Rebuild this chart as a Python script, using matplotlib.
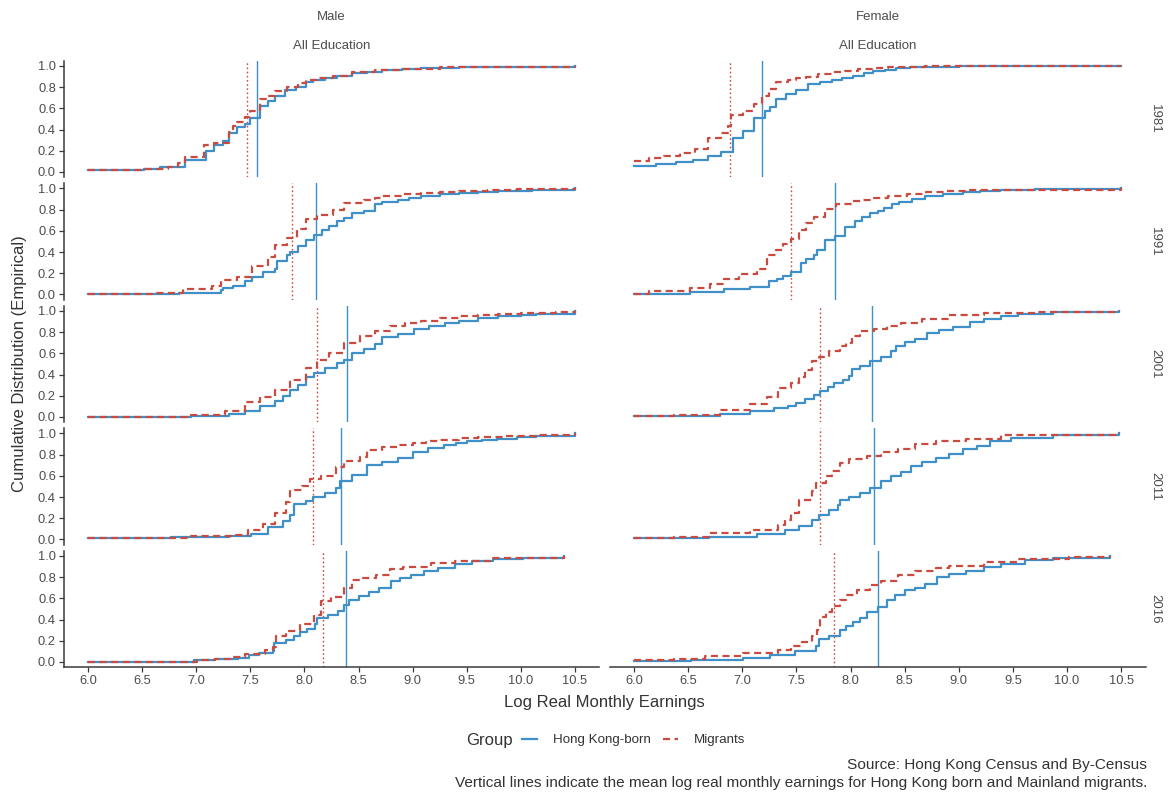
import matplotlib
matplotlib.use("Agg")
import matplotlib.pyplot as plt
from matplotlib.lines import Line2D

plt.rcParams["font.family"] = ["Liberation Sans", "DejaVu Sans"]

# facets
years = [1981, 1991, 2001, 2011, 2016]
sexes = ["Male", "Female"]
x_ticks = [6.0, 6.5, 7.0, 7.5, 8.0, 8.5, 9.0, 9.5, 10.0, 10.5]
y_ticks = [0.0, 0.2, 0.4, 0.6, 0.8, 1.0]

# ---- ECDF steps (log earnings, cumulative share) ----
male_1981_hk_x = [6.0, 6.52, 6.67, 6.90, 7.09, 7.16, 7.25, 7.30, 7.38, 7.45, 7.50, 7.59, 7.66, 7.73, 7.82, 7.92, 8.01, 8.08, 8.19, 8.30, 8.44, 8.58, 8.72, 8.90, 9.08, 9.43, 9.80, 10.5]
male_1981_hk_y = [0.015, 0.03, 0.05, 0.11, 0.20, 0.25, 0.29, 0.37, 0.42, 0.45, 0.51, 0.62, 0.67, 0.72, 0.77, 0.80, 0.85, 0.87, 0.89, 0.91, 0.93, 0.945, 0.96, 0.97, 0.98, 0.99, 0.995, 1.0]
male_1981_mig_x = [6.0, 6.52, 6.74, 6.83, 6.90, 7.07, 7.16, 7.30, 7.34, 7.38, 7.45, 7.50, 7.59, 7.66, 7.73, 7.84, 7.94, 8.01, 8.12, 8.26, 8.44, 8.65, 8.90, 9.25, 9.60, 10.5]
male_1981_mig_y = [0.015, 0.03, 0.05, 0.08, 0.14, 0.25, 0.27, 0.38, 0.43, 0.47, 0.52, 0.575, 0.69, 0.72, 0.76, 0.80, 0.84, 0.87, 0.89, 0.91, 0.94, 0.96, 0.975, 0.99, 0.995, 1.0]

male_1991_hk_x = [6.0, 6.84, 7.23, 7.25, 7.34, 7.45, 7.52, 7.62, 7.73, 7.75, 7.84, 7.87, 7.94, 8.01, 8.09, 8.16, 8.23, 8.30, 8.37, 8.44, 8.55, 8.65, 8.72, 8.86, 8.97, 9.08, 9.25, 9.43, 9.60, 9.79, 10.1, 10.5]
male_1991_hk_y = [0.003, 0.015, 0.04, 0.065, 0.08, 0.13, 0.16, 0.21, 0.24, 0.32, 0.37, 0.40, 0.46, 0.51, 0.56, 0.61, 0.645, 0.69, 0.72, 0.77, 0.79, 0.85, 0.87, 0.89, 0.91, 0.93, 0.945, 0.96, 0.97, 0.98, 0.99, 1.0]
male_1991_mig_x = [6.0, 6.59, 6.88, 7.15, 7.23, 7.38, 7.52, 7.66, 7.73, 7.84, 7.93, 8.01, 8.12, 8.26, 8.37, 8.55, 8.65, 8.72, 8.90, 9.08, 9.25, 9.43, 9.70, 9.96, 10.5]
male_1991_mig_y = [0.003, 0.01, 0.05, 0.08, 0.14, 0.16, 0.27, 0.35, 0.47, 0.53, 0.62, 0.71, 0.75, 0.80, 0.86, 0.89, 0.91, 0.93, 0.95, 0.96, 0.97, 0.98, 0.99, 0.995, 1.0]

male_2001_hk_x = [6.0, 6.95, 7.30, 7.45, 7.59, 7.73, 7.80, 7.87, 7.94, 8.01, 8.09, 8.19, 8.30, 8.37, 8.44, 8.55, 8.65, 8.72, 8.86, 9.01, 9.15, 9.30, 9.43, 9.60, 9.79, 10.0, 10.14, 10.5]
male_2001_hk_y = [0.003, 0.01, 0.025, 0.06, 0.10, 0.15, 0.20, 0.25, 0.30, 0.38, 0.41, 0.46, 0.51, 0.54, 0.60, 0.64, 0.685, 0.75, 0.78, 0.83, 0.86, 0.89, 0.91, 0.93, 0.95, 0.965, 0.975, 1.0]
male_2001_mig_x = [6.0, 6.95, 7.27, 7.45, 7.59, 7.73, 7.87, 8.01, 8.12, 8.23, 8.37, 8.51, 8.65, 8.79, 8.93, 9.08, 9.25, 9.43, 9.60, 9.79, 10.0, 10.32, 10.5]
male_2001_mig_y = [0.003, 0.015, 0.06, 0.14, 0.19, 0.25, 0.35, 0.46, 0.54, 0.60, 0.70, 0.765, 0.81, 0.86, 0.885, 0.91, 0.93, 0.95, 0.965, 0.975, 0.985, 0.99, 1.0]

male_2011_hk_x = [6.0, 6.77, 7.30, 7.51, 7.66, 7.80, 7.87, 7.90, 8.01, 8.08, 8.19, 8.29, 8.33, 8.44, 8.58, 8.72, 8.86, 9.00, 9.14, 9.29, 9.40, 9.50, 9.64, 9.78, 9.96, 10.14, 10.5]
male_2011_hk_y = [0.01, 0.02, 0.03, 0.055, 0.12, 0.17, 0.23, 0.33, 0.36, 0.40, 0.44, 0.49, 0.555, 0.61, 0.70, 0.73, 0.77, 0.83, 0.86, 0.89, 0.91, 0.925, 0.94, 0.95, 0.965, 0.975, 1.0]
male_2011_mig_x = [6.0, 6.95, 7.37, 7.48, 7.62, 7.73, 7.83, 7.87, 7.98, 8.05, 8.15, 8.29, 8.37, 8.51, 8.58, 8.72, 8.86, 9.00, 9.12, 9.25, 9.43, 9.60, 9.85, 10.14, 10.5]
male_2011_mig_y = [0.01, 0.03, 0.04, 0.09, 0.15, 0.25, 0.35, 0.47, 0.50, 0.57, 0.60, 0.68, 0.74, 0.78, 0.845, 0.87, 0.89, 0.91, 0.925, 0.94, 0.955, 0.97, 0.98, 0.99, 1.0]

male_2016_hk_x = [6.0, 6.98, 7.17, 7.39, 7.49, 7.58, 7.71, 7.72, 7.83, 7.90, 7.96, 8.02, 8.10, 8.12, 8.22, 8.31, 8.37, 8.41, 8.50, 8.60, 8.69, 8.80, 8.88, 8.98, 9.10, 9.23, 9.39, 9.55, 9.74, 10.02, 10.40]
male_2016_hk_y = [0.003, 0.015, 0.025, 0.04, 0.065, 0.08, 0.10, 0.18, 0.21, 0.245, 0.28, 0.315, 0.36, 0.41, 0.445, 0.48, 0.535, 0.585, 0.625, 0.66, 0.70, 0.76, 0.795, 0.82, 0.855, 0.885, 0.92, 0.95, 0.97, 0.985, 1.0]
male_2016_mig_x = [6.0, 7.01, 7.17, 7.33, 7.45, 7.64, 7.71, 7.74, 7.83, 7.96, 8.09, 8.15, 8.25, 8.37, 8.44, 8.53, 8.66, 8.79, 8.91, 9.17, 9.39, 9.71, 10.40]
male_2016_mig_y = [0.003, 0.015, 0.03, 0.05, 0.075, 0.115, 0.145, 0.245, 0.29, 0.36, 0.445, 0.575, 0.615, 0.70, 0.77, 0.79, 0.82, 0.875, 0.90, 0.93, 0.955, 0.98, 1.0]

female_1981_hk_x = [6.0, 6.20, 6.39, 6.54, 6.68, 6.80, 6.91, 7.01, 7.11, 7.21, 7.26, 7.31, 7.40, 7.50, 7.61, 7.72, 7.83, 7.92, 8.02, 8.12, 8.21, 8.32, 8.42, 8.55, 8.69, 9.0, 10.5]
female_1981_hk_y = [0.055, 0.07, 0.09, 0.11, 0.15, 0.19, 0.32, 0.39, 0.51, 0.575, 0.61, 0.69, 0.735, 0.77, 0.83, 0.85, 0.87, 0.89, 0.91, 0.93, 0.95, 0.965, 0.98, 0.99, 0.995, 1.0, 1.0]
female_1981_mig_x = [6.0, 6.14, 6.28, 6.42, 6.56, 6.68, 6.80, 6.87, 6.90, 7.01, 7.11, 7.18, 7.25, 7.31, 7.42, 7.50, 7.59, 7.70, 7.83, 7.95, 8.07, 8.20, 8.35, 8.69, 10.5]
female_1981_mig_y = [0.10, 0.13, 0.15, 0.18, 0.22, 0.32, 0.37, 0.43, 0.54, 0.575, 0.64, 0.72, 0.78, 0.85, 0.87, 0.885, 0.90, 0.92, 0.94, 0.955, 0.97, 0.98, 0.99, 1.0, 1.0]

female_1991_hk_x = [6.0, 6.52, 6.83, 7.07, 7.25, 7.32, 7.38, 7.45, 7.54, 7.59, 7.66, 7.69, 7.76, 7.86, 7.95, 8.04, 8.11, 8.18, 8.25, 8.31, 8.38, 8.45, 8.57, 8.69, 8.85, 9.04, 9.20, 9.38, 9.70, 10.5]
female_1991_hk_y = [0.005, 0.025, 0.05, 0.07, 0.13, 0.15, 0.175, 0.21, 0.30, 0.33, 0.37, 0.42, 0.51, 0.55, 0.64, 0.69, 0.73, 0.77, 0.79, 0.82, 0.85, 0.87, 0.90, 0.93, 0.95, 0.965, 0.975, 0.985, 0.995, 1.0]
female_1991_mig_x = [6.0, 6.14, 6.52, 6.70, 6.83, 6.97, 7.14, 7.23, 7.31, 7.38, 7.45, 7.52, 7.59, 7.66, 7.76, 7.87, 8.01, 8.11, 8.21, 8.35, 8.52, 8.70, 8.87, 9.10, 9.38, 10.5]
female_1991_mig_y = [0.005, 0.03, 0.06, 0.095, 0.15, 0.19, 0.24, 0.37, 0.415, 0.48, 0.52, 0.61, 0.67, 0.73, 0.81, 0.85, 0.88, 0.895, 0.91, 0.93, 0.95, 0.965, 0.975, 0.985, 0.99, 1.0]

female_2001_hk_x = [6.0, 6.79, 7.07, 7.29, 7.42, 7.50, 7.58, 7.66, 7.72, 7.79, 7.85, 7.93, 7.99, 8.01, 8.09, 8.18, 8.28, 8.37, 8.42, 8.50, 8.60, 8.71, 8.82, 8.95, 9.10, 9.23, 9.39, 9.55, 9.87, 10.48]
female_2001_hk_y = [0.005, 0.03, 0.055, 0.08, 0.10, 0.135, 0.165, 0.205, 0.24, 0.28, 0.32, 0.35, 0.385, 0.45, 0.48, 0.525, 0.57, 0.62, 0.665, 0.705, 0.735, 0.795, 0.825, 0.85, 0.895, 0.925, 0.95, 0.97, 0.99, 1.0]
female_2001_mig_x = [6.0, 6.37, 6.79, 7.07, 7.23, 7.33, 7.45, 7.52, 7.58, 7.64, 7.71, 7.80, 7.90, 7.96, 8.01, 8.09, 8.22, 8.34, 8.47, 8.66, 8.91, 9.23, 9.71, 10.48]
female_2001_mig_y = [0.005, 0.015, 0.065, 0.125, 0.19, 0.27, 0.32, 0.38, 0.445, 0.525, 0.57, 0.62, 0.665, 0.70, 0.76, 0.81, 0.83, 0.855, 0.89, 0.92, 0.96, 0.98, 0.995, 1.0]

female_2011_hk_x = [6.0, 6.69, 7.14, 7.39, 7.52, 7.64, 7.71, 7.80, 7.88, 7.90, 7.99, 8.09, 8.18, 8.28, 8.37, 8.47, 8.56, 8.66, 8.79, 8.91, 9.04, 9.17, 9.29, 9.48, 9.87, 10.48]
female_2011_hk_y = [0.01, 0.025, 0.05, 0.09, 0.13, 0.18, 0.23, 0.28, 0.325, 0.37, 0.405, 0.44, 0.485, 0.55, 0.60, 0.635, 0.695, 0.73, 0.765, 0.805, 0.855, 0.885, 0.925, 0.96, 0.985, 1.0]
female_2011_mig_x = [6.0, 6.37, 6.69, 7.07, 7.33, 7.39, 7.45, 7.52, 7.64, 7.68, 7.77, 7.83, 7.90, 7.99, 8.15, 8.28, 8.44, 8.60, 8.79, 9.07, 9.39, 10.48]
female_2011_mig_y = [0.01, 0.025, 0.06, 0.09, 0.14, 0.18, 0.245, 0.37, 0.455, 0.535, 0.60, 0.645, 0.725, 0.76, 0.79, 0.825, 0.855, 0.905, 0.925, 0.95, 0.985, 1.0]

female_2016_hk_x = [6.0, 6.53, 7.01, 7.26, 7.49, 7.68, 7.71, 7.80, 7.90, 7.96, 8.02, 8.09, 8.15, 8.25, 8.34, 8.41, 8.50, 8.60, 8.69, 8.80, 8.91, 9.07, 9.23, 9.39, 9.61, 9.87, 10.40]
female_2016_hk_y = [0.01, 0.02, 0.04, 0.065, 0.10, 0.15, 0.215, 0.24, 0.305, 0.34, 0.38, 0.41, 0.47, 0.515, 0.58, 0.635, 0.68, 0.70, 0.74, 0.805, 0.83, 0.86, 0.895, 0.925, 0.96, 0.98, 1.0]
female_2016_mig_x = [6.0, 6.37, 6.66, 7.01, 7.33, 7.45, 7.55, 7.64, 7.69, 7.72, 7.77, 7.83, 7.90, 7.96, 8.06, 8.18, 8.28, 8.44, 8.60, 8.79, 8.91, 9.23, 9.55, 10.02, 10.40]
female_2016_mig_y = [0.015, 0.03, 0.055, 0.08, 0.11, 0.15, 0.19, 0.24, 0.305, 0.42, 0.475, 0.53, 0.58, 0.635, 0.68, 0.725, 0.76, 0.82, 0.855, 0.885, 0.91, 0.945, 0.975, 0.995, 1.0]

# mean log earnings (vertical lines), by year
male_mean_hk = [7.565, 8.108, 8.392, 8.334, 8.387]
male_mean_mig = [7.466, 7.881, 8.115, 8.075, 8.171]
female_mean_hk = [7.185, 7.853, 8.200, 8.215, 8.252]
female_mean_mig = [6.885, 7.453, 7.720, 7.715, 7.849]

curves = {
    ("Male", 1981): (male_1981_hk_x, male_1981_hk_y, male_1981_mig_x, male_1981_mig_y),
    ("Male", 1991): (male_1991_hk_x, male_1991_hk_y, male_1991_mig_x, male_1991_mig_y),
    ("Male", 2001): (male_2001_hk_x, male_2001_hk_y, male_2001_mig_x, male_2001_mig_y),
    ("Male", 2011): (male_2011_hk_x, male_2011_hk_y, male_2011_mig_x, male_2011_mig_y),
    ("Male", 2016): (male_2016_hk_x, male_2016_hk_y, male_2016_mig_x, male_2016_mig_y),
    ("Female", 1981): (female_1981_hk_x, female_1981_hk_y, female_1981_mig_x, female_1981_mig_y),
    ("Female", 1991): (female_1991_hk_x, female_1991_hk_y, female_1991_mig_x, female_1991_mig_y),
    ("Female", 2001): (female_2001_hk_x, female_2001_hk_y, female_2001_mig_x, female_2001_mig_y),
    ("Female", 2011): (female_2011_hk_x, female_2011_hk_y, female_2011_mig_x, female_2011_mig_y),
    ("Female", 2016): (female_2016_hk_x, female_2016_hk_y, female_2016_mig_x, female_2016_mig_y),
}
means = {"Male": (male_mean_hk, male_mean_mig), "Female": (female_mean_hk, female_mean_mig)}

blue = "#3f8fc8"
red = "#c94a3e"
axis_col = "#3a3a3a"
text_col = "#4d4d4d"
dash = (0, (3.2, 2.0))

W, H = 1169, 792
fig = plt.figure(figsize=(W / 100, H / 100), dpi=100)

# panel geometry in pixels
col_left = [63.6, 609.7]
col_w = 535.8
row_top = 60.7
row_h = 116.5
row_gap = 6.0

for c, sex in enumerate(sexes):
    for r, yr in enumerate(years):
        top = row_top + r * (row_h + row_gap)
        ax = fig.add_axes([col_left[c] / W, 1 - (top + row_h) / H, col_w / W, row_h / H])
        ax.set_facecolor("none")
        hx, hy, mx, my = curves[(sex, yr)]
        ax.step(hx, hy, where="post", color=blue, lw=1.6, zorder=3)
        ax.step(mx, my, where="post", color=red, lw=1.6, linestyle=dash, zorder=4)
        ax.axvline(means[sex][0][r], color=blue, lw=1.0, zorder=2)
        ax.axvline(means[sex][1][r], color=red, lw=1.0, linestyle=(0, (1.2, 1.8)), zorder=2)
        ax.set_xlim(5.775, 10.725)
        ax.set_ylim(-0.05, 1.05)
        for s in ax.spines.values():
            s.set_visible(False)
        ax.set_xticks(x_ticks)
        ax.set_yticks(y_ticks)
        ax.tick_params(colors=axis_col, length=3.5, width=0.9, labelsize=9.3, labelcolor=text_col, pad=2)
        if c == 0:
            ax.spines["left"].set_visible(True)
            ax.spines["left"].set_color(axis_col)
            ax.spines["left"].set_linewidth(1.1)
            ax.set_yticklabels([f"{v:.1f}" for v in y_ticks])
        else:
            ax.tick_params(axis="y", left=False, labelleft=False)
        if r == len(years) - 1:
            ax.spines["bottom"].set_visible(True)
            ax.spines["bottom"].set_color(axis_col)
            ax.spines["bottom"].set_linewidth(1.1)
            ax.set_xticklabels([f"{v:.1f}" for v in x_ticks])
        else:
            ax.tick_params(axis="x", bottom=False, labelbottom=False)
        if c == 1:
            fig.text(1155 / W, 1 - (top + row_h / 2) / H, str(yr), rotation=270,
                     ha="center", va="center", fontsize=9.5, color=text_col)

    cx = (col_left[c] + col_w / 2) / W
    fig.text(cx, 1 - 17 / H, sex, ha="center", va="center", fontsize=9.5, color=text_col)
    fig.text(cx, 1 - 46 / H, "All Education", ha="center", va="center", fontsize=9.5, color=text_col)

mid_x = (col_left[0] + col_left[1] + col_w) / 2 / W
fig.text(mid_x, 1 - 703 / H, "Log Real Monthly Earnings", ha="center", va="center",
         fontsize=12, color="#333333")
fig.text(20 / W, 1 - 364 / H, "Cumulative Distribution (Empirical)", rotation=90,
         ha="center", va="center", fontsize=12, color="#333333")

# legend
fig.text(466 / W, 1 - 740 / H, "Group", ha="left", va="center", fontsize=12, color="#333333")
handles = [Line2D([], [], color=blue, lw=1.6),
           Line2D([], [], color=red, lw=1.6, linestyle=dash)]
fig.legend(handles, ["Hong Kong-born", "Migrants"], loc="center left",
           bbox_to_anchor=(522 / W, 1 - 740 / H), ncol=2, frameon=False,
           fontsize=9.6, handlelength=1.15, handletextpad=1.2, columnspacing=0.85,
           borderpad=0, borderaxespad=0, labelcolor="#333333")

fig.text(1147 / W, 1 - 765 / H, "Source: Hong Kong Census and By-Census",
         ha="right", va="center", fontsize=11.1, color="#333333")
fig.text(1147 / W, 1 - 783 / H,
         "Vertical lines indicate the mean log real monthly earnings for Hong Kong born and Mainland migrants.",
         ha="right", va="center", fontsize=11.1, color="#333333")

fig.savefig("out.png", dpi=100)
